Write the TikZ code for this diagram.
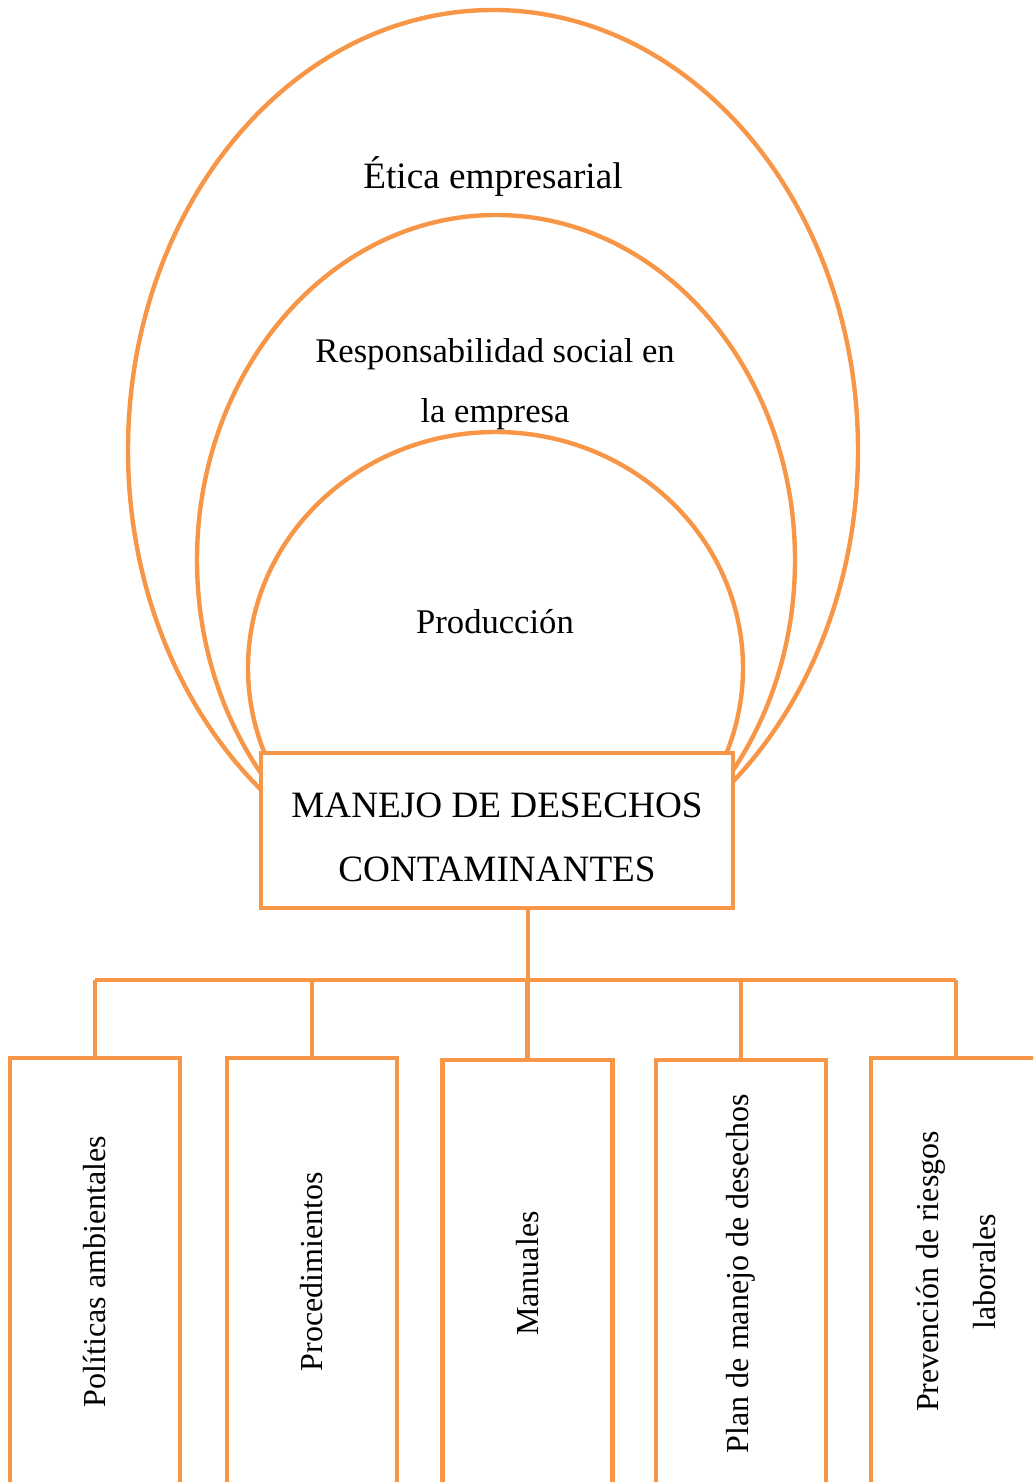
\documentclass[tikz,border=0pt]{standalone}
\usepackage{fontspec}
\setmainfont{Liberation Serif}
\definecolor{naranja}{HTML}{F79646}

\begin{document}
\begin{tikzpicture}[x=0.5pt,y=-0.5pt,
    anillo/.style={draw=naranja,line width=2.2pt},
    caja/.style={draw=naranja,line width=2.2pt,fill=white,inner sep=0pt},
    texto/.style={font=\fontsize{17.3}{30}\selectfont,align=center},
    hoja/.style={caja,align=center,font=\fontsize{16}{28.5}\selectfont,rotate=90,minimum width=213.5pt,minimum height=85pt}]
          \clip (0,0) rectangle (1033,1482);

          \draw[anillo] (493,450) ellipse [x radius=365, y radius=440];
          \draw[anillo] (496,560) ellipse [x radius=299, y radius=345];
          \draw[anillo] (495.5,668) ellipse [x radius=247.5, y radius=236];

          \node[texto,font=\fontsize{18.6}{31}\selectfont] (etica) at (493,176) {Ética empresarial};
          \node[texto] (resp) at (495,384) {Responsabilidad social en\\la empresa};
          \node[texto] (prod) at (495,622) {Producción};

          \node[caja,texto,font=\fontsize{18.6}{32}\selectfont,text height=51pt,minimum width=236pt,minimum height=77.5pt] (manejo) at (497,830.5) {MANEJO DE DESECHOS\\CONTAMINANTES};

          \node[hoja] (pol) at (95,1271.5) {Políticas ambientales};
          \node[hoja] (proc) at (312,1271.5) {Procedimientos};
          \node[hoja] (man) at (527.5,1273.5) {Manuales};
          \node[hoja] (plan) at (741,1273.5) {Plan de manejo de desechos};
          \node[hoja] (prev) at (956,1271.5) {Prevención de riesgos\\laborales};

          \coordinate (nudo) at (528,980);
          \draw[anillo] (manejo.south -| nudo) -- (nudo);
          \draw[anillo] (pol.east |- nudo) -- (prev.east |- nudo);
          \foreach \h in {pol,proc,man,plan,prev}
            \draw[anillo] (\h.east) -- (\h.east |- nudo);
        \end{tikzpicture}
\end{document}
